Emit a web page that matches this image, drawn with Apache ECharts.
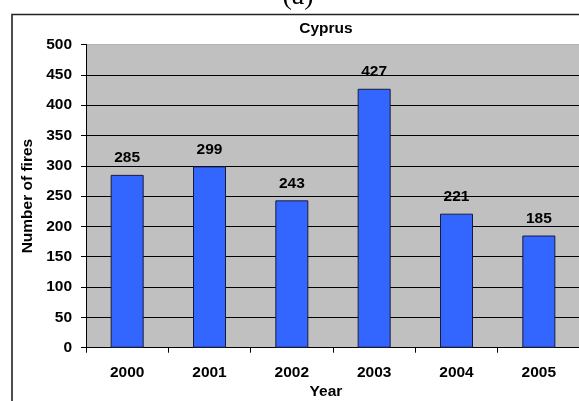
<!DOCTYPE html>
<html>
<head>
<meta charset="utf-8">
<script src="https://cdn.jsdelivr.net/npm/echarts@6/dist/echarts.min.js"></script>
<style>
html,body{margin:0;padding:0;background:#fff;}
#chart{width:579px;height:401px;}
</style>
</head>
<body>
<div id="chart"></div>
<script>
var years = ['2000', '2001', '2002', '2003', '2004', '2005'];
var fires = [285, 299, 243, 427, 221, 185];
var yTicks = [0, 50, 100, 150, 200, 250, 300, 350, 400, 450, 500];
var chartTitle = 'Cyprus';
var panelLabel = '(a)';
var xName = 'Year';
var yName = 'Number of fires';

var F = 'Liberation Sans, Arial, sans-serif';
var FS = 15.5;
var gridLineColors = yTicks.map(function (v, i) { return i === yTicks.length - 1 ? '#b4b4b4' : '#000000'; });

var chart = echarts.init(document.getElementById('chart'), null, {renderer: 'canvas'});
chart.setOption({
  animation: false,
  backgroundColor: '#ffffff',
  grid: {
    left: 86, top: 44.5, width: 494, height: 303.2,
    show: true, backgroundColor: '#C0C0C0', borderWidth: 0,
    outerBoundsMode: 'none', containLabel: false
  },
  graphic: [
    {type: 'rect', shape: {x: 12, y: 14.5, width: 800, height: 600}, style: {fill: null, stroke: '#222', lineWidth: 1.6}, z: 10},
    {type: 'text', x: 326, y: 29, style: {text: chartTitle, font: 'bold ' + FS + 'px ' + F, fill: '#000', textAlign: 'center', textVerticalAlign: 'middle'}},
    {type: 'text', x: 298, y: -3, style: {text: panelLabel, font: '28px Liberation Serif, Times New Roman, serif', fill: '#000', textAlign: 'center', textVerticalAlign: 'middle'}},
    {type: 'text', x: 326, y: 392, style: {text: xName, font: 'bold ' + FS + 'px ' + F, fill: '#000', textAlign: 'center', textVerticalAlign: 'middle'}}
  ],
  xAxis: {
    type: 'category',
    data: years,
    boundaryGap: true,
    axisLine: {show: true, lineStyle: {color: '#000', width: 1}},
    axisTick: {show: true, length: 5, alignWithLabel: false, lineStyle: {color: '#000'}},
    axisLabel: {margin: 17, color: '#000', fontFamily: F, fontWeight: 'bold', fontSize: FS},
    splitLine: {show: false}
  },
  yAxis: {
    type: 'value',
    min: 0, max: 500, interval: 50,
    name: yName,
    nameLocation: 'middle',
    nameRotate: 90,
    nameGap: 50,
    nameTextStyle: {color: '#000', fontFamily: F, fontWeight: 'bold', fontSize: FS},
    axisLine: {show: true, lineStyle: {color: '#000', width: 1}},
    axisTick: {show: true, length: 5, lineStyle: {color: '#000'}},
    axisLabel: {margin: 14, color: '#000', fontFamily: F, fontWeight: 'bold', fontSize: FS},
    splitLine: {show: true, lineStyle: {color: gridLineColors, width: 1}}
  },
  series: [{
    type: 'bar',
    data: fires,
    barWidth: 33,
    itemStyle: {color: '#3366FF', borderColor: '#1a1a3a', borderWidth: 1},
    label: {show: true, position: 'top', distance: 9, color: '#000', fontFamily: F, fontWeight: 'bold', fontSize: FS}
  }]
});
</script>
</body>
</html>
